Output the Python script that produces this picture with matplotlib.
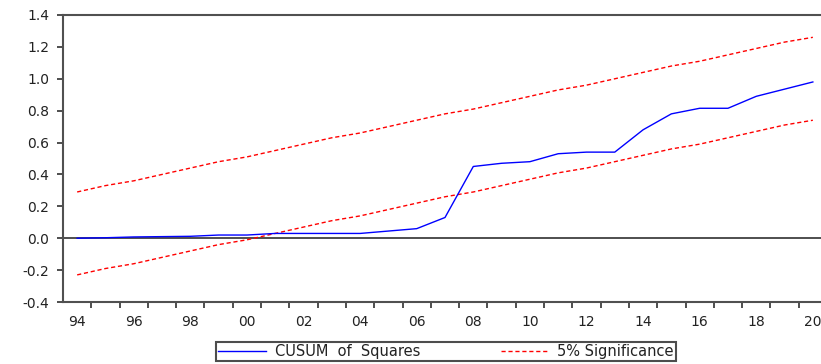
import numpy as np
import matplotlib.pyplot as plt

# ==========================================================
# data
# ==========================================================

years = list(range(1994, 2021))

cusum_sq = [
    0.000, 0.003, 0.008, 0.010, 0.012, 0.020, 0.020, 0.030, 0.030,
    0.030, 0.030, 0.045, 0.060, 0.130, 0.450, 0.470, 0.480, 0.530,
    0.540, 0.540, 0.680, 0.780, 0.815, 0.815, 0.890, 0.935, 0.980
]

upper_5pct = [
    0.29, 0.33, 0.36, 0.40, 0.44, 0.48, 0.51, 0.55, 0.59, 0.63, 0.66,
    0.70, 0.74, 0.78, 0.81, 0.85, 0.89, 0.93, 0.96, 1.00, 1.04, 1.08,
    1.11, 1.15, 1.19, 1.23, 1.26
]

lower_5pct = [
    -0.23, -0.19, -0.16, -0.12, -0.08, -0.04, -0.01, 0.03, 0.07, 0.11,
    0.14, 0.18, 0.22, 0.26, 0.29, 0.33, 0.37, 0.41, 0.44, 0.48, 0.52,
    0.56, 0.59, 0.63, 0.67, 0.71, 0.74
]

label_years = list(range(1994, 2021, 2))
label_text = ["94", "96", "98", "00", "02", "04", "06", "08",
              "10", "12", "14", "16", "18", "20"]

y_ticks = [-0.4, -0.2, 0.0, 0.2, 0.4, 0.6, 0.8, 1.0, 1.2, 1.4]

# ==========================================================
# plot
# ==========================================================

plt.rcParams["font.family"] = ["DejaVu Sans"]

fig = plt.figure(figsize=(8.21, 3.64), dpi=100)
ax = fig.add_axes([63 / 821, 1 - 302 / 364, (827 - 63) / 821, 287 / 364])

ax.axhline(0, color="#303030", lw=1.2, zorder=1)

ax.plot(years, cusum_sq, color="#0000ff", lw=1.0,
        label="CUSUM  of  Squares", zorder=3)
ax.plot(years, upper_5pct, color="#ff0000", lw=1.0, dashes=(3, 2),
        label="5% Significance", zorder=2)
ax.plot(years, lower_5pct, color="#ff0000", lw=1.0, dashes=(3, 2),
        zorder=2)

ax.set_xlim(1993.5, 2020.5)
ax.set_ylim(-0.4, 1.4)

ax.set_yticks(y_ticks)
ax.set_yticklabels([f"{v:.1f}" for v in y_ticks])

ax.set_xticks(label_years)
ax.set_xticklabels(label_text)
ax.set_xticks(np.arange(1994.5, 2020.5, 1.0), minor=True)

ax.tick_params(axis="x", which="major", length=0, pad=9,
               labelsize=10, labelcolor="#222222")
ax.tick_params(axis="x", which="minor", length=4, width=1.2,
               color="#303030", direction="out")
ax.tick_params(axis="y", which="major", length=4, width=1.2,
               color="#303030", labelsize=10, labelcolor="#222222", pad=6)

for side in ["left", "top", "bottom"]:
    ax.spines[side].set_color("#505050")
    ax.spines[side].set_linewidth(1.5)
ax.spines["right"].set_visible(False)

leg = fig.legend(
    loc="upper center",
    bbox_to_anchor=(446 / 821, 1 - 342 / 364),
    borderaxespad=0.0,
    ncol=2,
    fontsize=10.5,
    frameon=True,
    fancybox=False,
    handlelength=3.3,
    handletextpad=0.6,
    columnspacing=5.5,
    borderpad=0.15,
)
leg.get_frame().set_edgecolor("#202020")
leg.get_frame().set_linewidth(1.5)
for t in leg.get_texts():
    t.set_color("#222222")

fig.savefig("out.png", dpi=100)
